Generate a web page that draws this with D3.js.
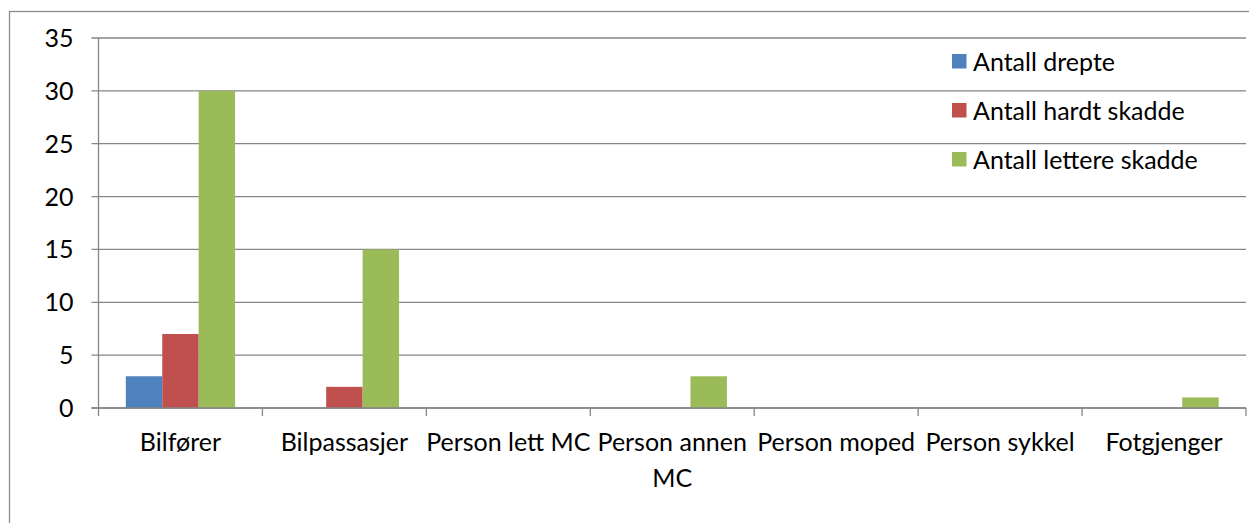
<!DOCTYPE html>
<html>
<head>
<meta charset="utf-8">
<script src="https://cdn.jsdelivr.net/npm/d3@7"></script>
<style>
  body { margin: 0; background: #fff; }
  svg { display: block; }
  text { font-family: Lato, "Open Sans", sans-serif; fill: #000; }
</style>
</head>
<body>
<svg id="chart" width="1249" height="523"></svg>
<script>
var categories = ["Bilfører", "Bilpassasjer", "Person lett MC", "Person annen MC", "Person moped", "Person sykkel", "Fotgjenger"];
var seriesNames = ["Antall drepte", "Antall hardt skadde", "Antall lettere skadde"];
var drepte = [3, 0, 0, 0, 0, 0, 0];
var hardt = [7, 2, 0, 0, 0, 0, 0];
var lettere = [30, 15, 0, 3, 0, 0, 1];
var yTicks = [0, 5, 10, 15, 20, 25, 30, 35];
var colors = ["#4f81bd", "#c0504d", "#9bbb59"];

var svg = d3.select("#chart"),
    margin = {top: 38, left: 98.5, right: 3, bottom: 115},
    width = 1249 - margin.left - margin.right,
    height = 523 - margin.top - margin.bottom,
    fontSize = 25;

var values = [drepte, hardt, lettere];
var data = categories.map(function(c, i) {
  return {cat: c, vals: values.map(function(s, j) { return {name: seriesNames[j], v: s[i], k: j}; })};
});

// outer chart frame
svg.append("rect")
    .attr("x", 9.5).attr("y", 11.5)
    .attr("width", 1260).attr("height", 540)
    .attr("fill", "none").attr("stroke", "#8c8c8c").attr("stroke-width", 1.3);

var g = svg.append("g").attr("transform", "translate(" + margin.left + "," + margin.top + ")");

var x0 = d3.scaleBand().domain(categories).range([0, width]).padding(0);
var x1 = d3.scaleBand().domain(seriesNames).range([0, x0.bandwidth()]).paddingInner(0).paddingOuter(0.75);
var y = d3.scaleLinear().domain([0, 35]).range([height, 0]);

// gridlines
g.append("g")
  .selectAll("line")
  .data(yTicks)
  .enter().append("line")
    .attr("x1", -7).attr("x2", width)
    .attr("y1", function(d) { return y(d); })
    .attr("y2", function(d) { return y(d); })
    .attr("stroke", "#868686").attr("stroke-width", 1.3);

// y axis line + labels
g.append("line")
    .attr("x1", 0).attr("x2", 0).attr("y1", 0).attr("y2", height)
    .attr("stroke", "#868686").attr("stroke-width", 1.3);

g.append("g")
  .selectAll("text")
  .data(yTicks)
  .enter().append("text")
    .attr("x", -25)
    .attr("y", function(d) { return y(d); })
    .attr("dy", "0.36em")
    .attr("text-anchor", "end")
    .style("font-size", fontSize + "px")
    .text(function(d) { return d; });

// bars
var group = g.selectAll(".cat")
  .data(data)
  .enter().append("g")
    .attr("class", "cat")
    .attr("transform", function(d) { return "translate(" + x0(d.cat) + ",0)"; });

group.selectAll("rect")
  .data(function(d) { return d.vals.filter(function(v) { return v.v > 0; }); })
  .enter().append("rect")
    .attr("x", function(d) { return x1(d.name); })
    .attr("width", x1.bandwidth())
    .attr("y", function(d) { return y(d.v); })
    .attr("height", function(d) { return y(0) - y(d.v); })
    .attr("fill", function(d) { return colors[d.k]; });

// x axis
var xa = g.append("g")
    .attr("transform", "translate(0," + height + ")");
xa.append("line")
    .attr("x1", -7).attr("x2", width)
    .attr("stroke", "#868686").attr("stroke-width", 1.3);
xa.selectAll(".tick")
  .data(d3.range(categories.length + 1))
  .enter().append("line")
    .attr("x1", function(i) { return i * x0.step(); })
    .attr("x2", function(i) { return i * x0.step(); })
    .attr("y1", 0).attr("y2", 8)
    .attr("stroke", "#868686").attr("stroke-width", 1.3);

xa.selectAll(".lab")
  .data(categories)
  .enter().append("text")
    .attr("class", "lab")
    .attr("text-anchor", "middle")
    .style("font-size", fontSize + "px")
    .attr("transform", function(d) { return "translate(" + (x0(d) + x0.bandwidth() / 2) + ",43)"; })
    .each(function(d) { wrap(d3.select(this), d, 175); });

function wrap(text, str, maxW) {
  var words = str.split(" "), line = [];
  var tspan = text.append("tspan").attr("x", 0).attr("dy", 0);
  words.forEach(function(w) {
    line.push(w);
    tspan.text(line.join(" "));
    if (tspan.node().getComputedTextLength() > maxW && line.length > 1) {
      line.pop();
      tspan.text(line.join(" "));
      line = [w];
      tspan = text.append("tspan").attr("x", 0).attr("dy", "1.42em").text(w);
    }
  });
}

// legend
var legend = svg.append("g").attr("transform", "translate(952,54)");
var item = legend.selectAll("g")
  .data(seriesNames)
  .enter().append("g")
    .attr("transform", function(d, i) { return "translate(0," + i * 49 + ")"; });
item.append("rect")
    .attr("width", 14.5).attr("height", 14.5)
    .attr("fill", function(d, i) { return colors[i]; });
item.append("text")
    .attr("x", 21).attr("y", 7.5).attr("dy", "0.36em")
    .style("font-size", fontSize + "px")
    .text(function(d) { return d; });
</script>
</body>
</html>
